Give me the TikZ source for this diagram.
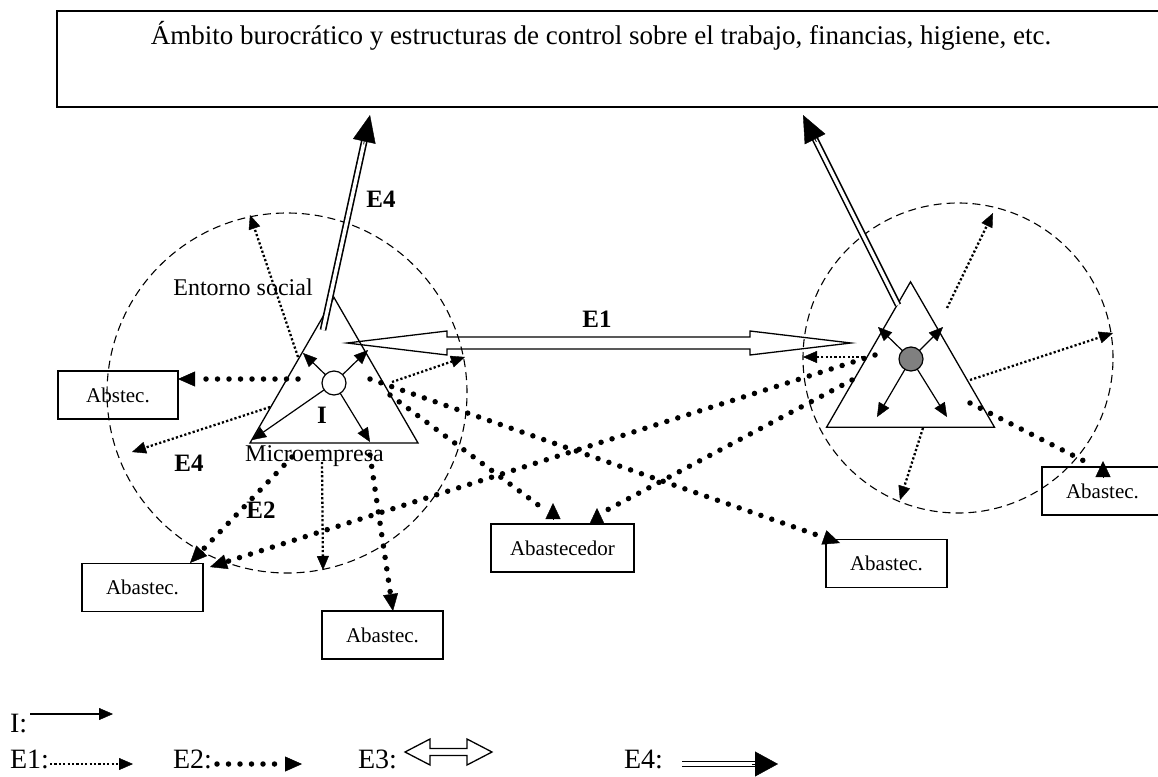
\documentclass[tikz,border=0pt]{standalone}
\usepackage{fontspec}
\setmainfont{Liberation Serif}
\usetikzlibrary{arrows.meta,shapes.geometric,calc}
\definecolor{coregray}{RGB}{128,128,128}
\begin{document}
\begin{tikzpicture}[x=1pt,y=-1pt,
  every node/.style={inner sep=0pt, outer sep=0pt},
  env/.style={circle, draw, line width=1.1pt, dash pattern=on 8pt off 5pt},
  tri/.style={regular polygon, regular polygon sides=3, draw, line width=1.3pt, minimum size=194pt},
  core/.style={circle, draw, line width=1.2pt, minimum size=24pt},
  abox/.style={draw, line width=1.2pt, minimum width=121pt, minimum height=48pt, font=\fontsize{21}{25}\selectfont},
  lab/.style={font=\fontsize{24}{28}\selectfont, anchor=base},
  blab/.style={font=\fontsize{25}{30}\selectfont\bfseries, anchor=base},
  leg/.style={font=\fontsize{28}{32}\selectfont, anchor=base west},
  iarr/.style={line width=1.2pt, -{Triangle[length=14pt,width=12pt,line width=0.4pt]}},
  eone/.style={line width=2.3pt, dash pattern=on 2.2pt off 2.2pt, -{Triangle[length=14pt,width=12pt,line width=0.4pt]}},
  etwo/.style={line width=5.5pt, line cap=round, dash pattern=on 0pt off 11.5pt, -{Triangle[length=17pt,width=15pt,line width=0.4pt]}},
  etwoline/.style={line width=5.5pt, line cap=round, dash pattern=on 0pt off 11.5pt},
  uphead/.style={line width=0.8pt, -{Triangle[length=16pt,width=15pt,line width=0.4pt]}},
  efour/.style={double, double distance=3.5pt, line width=1.6pt},
  efourhead/.style={line width=0.8pt, -{Triangle[length=27pt,width=23pt,line width=0.4pt]}},
  ethree/.style={draw, line width=1.3pt, line join=miter},
]
\useasboundingbox (0,0) rectangle (1158,776);
\clip (0,0) rectangle (1158,776);

% top box
\node[draw, line width=1.4pt, minimum width=1130pt, minimum height=96pt, anchor=north west] (topbox) at (57,11) {};
\node[font=\fontsize{27}{32}\selectfont, anchor=base] (toptext) at (601,45) {Ámbito burocrático y estructuras de control sobre el trabajo, financias, higiene, etc.};

% environments and enterprises
\node[env, minimum size=360pt] (lenv) at (287,393) {};
\node[env, minimum size=310pt] (renv) at (958,358) {};
\node[tri] (ltri) at (334,394.5) {};
\node[tri] (rtri) at (910.5,378.8) {};

% supplier boxes
\node[abox, minimum width=120pt] (abL) at (118,395) {Abstec.\hspace{16pt}};
\node[abox] (abBL) at (142.5,587.5) {Abastec.};
\node[abox] (abBot) at (382.5,635) {Abastec.};
\node[abox, minimum width=143pt] (abC) at (562.5,548) {Abastecedor};
\node[abox] (abM) at (886.5,563.5) {Abastec.};
\node[abox, anchor=north west] (abR) at (1042,467) {Abastec.\hspace{6pt}};

% labels
\node[lab] (ent) at (243,295) {Entorno social};
\node[lab] (micro) at (314.5,461) {Microempresa};
\node[blab] (lE4a) at (381,207) {E4};
\node[blab] (lE4b) at (189,471) {E4};
\node[blab] (lI) at (322,423) {I};
\node[blab] (lE2) at (261,518) {E2};
\node[blab] (lE1) at (597,327) {E1};

% E3 hollow double arrow
\coordinate (e3a) at (347,343);
\coordinate (e3b) at (851,343);
\draw[ethree] (e3a) -- ++(100,-12) -- ++(0,6) -- ($(e3b)+(-101,-6)$) -- ++(0,-6) -- (e3b)
  -- ++(-101,12) -- ++(0,-6) -- ($(e3a)+(100,6)$) -- ++(0,6) -- cycle;

% E4 double arrows
\coordinate (l4s) at (323,330); \coordinate (l4t) at (370,115);
\draw[efour] (l4s) -- ($(l4t)!24pt!(l4s)$);
\draw[efourhead] ($(l4t)!30pt!(l4s)$) -- (l4t);
\coordinate (r4s) at (898,305); \coordinate (r4t) at (803,115);
\draw[efour] (r4s) -- ($(r4t)!24pt!(r4s)$);
\draw[efourhead] ($(r4t)!30pt!(r4s)$) -- (r4t);

% E1 fine dotted (left)
\coordinate (la1s) at (298,357); \coordinate (la1) at (250,215);
\coordinate (la2s) at (270,407); \coordinate (la2) at (132,452);
\coordinate (la3s) at (392,382); \coordinate (la3) at (465,357);
\coordinate (la4s) at (322,462); \coordinate (la4) at (323,570);
\draw[eone] (la1s) -- (la1);
\draw[eone] (la2s) -- (la2);
\draw[eone] (la3s) -- (la3);
\draw[eone] (la4s) -- (la4);
% E1 fine dotted (right)
\coordinate (ra1s) at (947,308); \coordinate (ra1) at (993,213);
\coordinate (ra2s) at (970,380); \coordinate (ra2) at (1113,333);
\coordinate (ra3s) at (923,428); \coordinate (ra3) at (900,500);
\coordinate (ra4s) at (863,357); \coordinate (ra4) at (803,357);
\draw[eone] (ra1s) -- (ra1);
\draw[eone] (ra2s) -- (ra2);
\draw[eone] (ra3s) -- (ra3);
\draw[eone] (ra4s) -- (ra4);

% E2 heavy dotted
\coordinate (lb1s) at (298,379); \coordinate (lb1) at (178,379);
\coordinate (lb2s) at (292,457); \coordinate (lb2) at (190,563);
\coordinate (lb3s) at (370,455); \coordinate (lb3) at (393,611);
\coordinate (lb4s) at (390,395); \coordinate (lb4e) at (545,510); \coordinate (lb4) at (553,503);
\coordinate (lb5s) at (370,379); \coordinate (lb5) at (840,543);
\coordinate (rb1s) at (875,355); \coordinate (rb1) at (210,567);
\coordinate (rb2s) at (852,380); \coordinate (rb2e) at (607,510); \coordinate (rb2) at (597,508);
\coordinate (rb3s) at (970,403); \coordinate (rb3e) at (1088,463); \coordinate (rb3) at (1103,461);
\draw[etwo] (lb1s) -- (lb1);
\draw[etwo] (lb2s) -- (lb2);
\draw[etwo] (lb3s) -- (lb3);
\draw[etwoline] (lb4s) -- (lb4e);
\draw[uphead] ($(lb4)+(0,16)$) -- (lb4);
\draw[etwo] (lb5s) -- (lb5);
\draw[etwo] (rb1s) -- (rb1);
\draw[etwoline] (rb2s) -- (rb2e);
\draw[uphead] ($(rb2)+(0,16)$) -- (rb2);
\draw[etwoline] (rb3s) -- (rb3e);
\draw[uphead] ($(rb3)+(0,16)$) -- (rb3);

% cores and internal arrows
\node[core, fill=white] (lc) at (334,383) {};
\node[core, fill=coregray] (rc) at (911,359) {};
\coordinate (li1) at (303,353); \coordinate (li2) at (368,350);
\coordinate (li3) at (252,440); \coordinate (li4) at (370,442);
\draw[iarr] (lc) -- (li1);
\draw[iarr] (lc) -- (li2);
\draw[iarr] (lc) -- (li3);
\draw[iarr] (lc) -- (li4);
\coordinate (ri1) at (878,327); \coordinate (ri2) at (943,327);
\coordinate (ri3) at (877,417); \coordinate (ri4) at (947,417);
\draw[iarr] (rc) -- (ri1);
\draw[iarr] (rc) -- (ri2);
\draw[iarr] (rc) -- (ri3);
\draw[iarr] (rc) -- (ri4);

% legend
\node[leg] (gI) at (10,732) {I:};
\node[leg] (gE1) at (10,768) {E1:};
\node[leg] (gE2) at (173,768) {E2:};
\node[leg] (gE3) at (358,768) {E3:};
\node[leg] (gE4) at (624,768) {E4:};
\coordinate (gIs) at (30,714); \coordinate (gIe) at (113,714);
\draw[iarr] (gIs) -- (gIe);
\coordinate (g1s) at (50,764); \coordinate (g1e) at (133,764);
\draw[eone] (g1s) -- (g1e);
\coordinate (g2s) at (217,764); \coordinate (g2e) at (302,764);
\draw[etwo] (g2s) -- (g2e);
\coordinate (g3a) at (405,752); \coordinate (g3b) at (492,752);
\draw[ethree] (g3a) -- ++(25,-13) -- ++(0,9.5) -- ($(g3b)+(-25,-3.5)$) -- ++(0,-9.5) -- (g3b)
  -- ++(-25,13) -- ++(0,-9.5) -- ($(g3a)+(25,3.5)$) -- ++(0,9.5) -- cycle;
\coordinate (g4s) at (682,764); \coordinate (g4e) at (778,764);
\draw[efour] (g4s) -- ($(g4e)!20pt!(g4s)$);
\draw[line width=0.8pt, -{Triangle[length=23pt,width=25pt,line width=0.4pt]}] ($(g4e)!26pt!(g4s)$) -- (g4e);
\end{tikzpicture}
\end{document}
